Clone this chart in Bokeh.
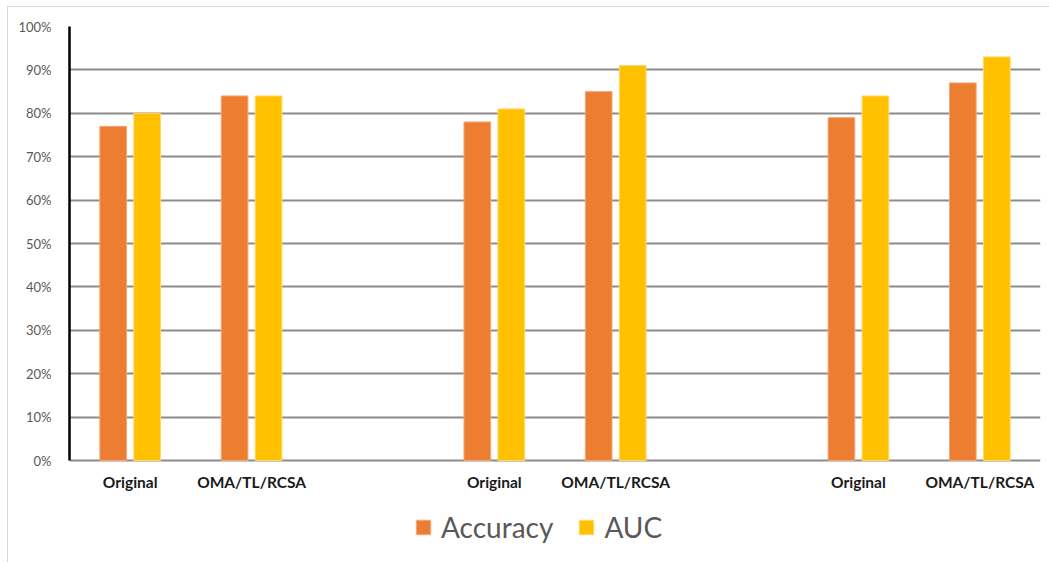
from bokeh.plotting import figure
from bokeh.models import (ColumnDataSource, FixedTicker, Legend, LegendItem,
                          NumeralTickFormatter, InlineStyleSheet)
from bokeh.core.properties import value
from bokeh.embed import file_html
from bokeh.resources import INLINE

# ---- data ----
categories = ["Original", "OMA/TL/RCSA", "Original", "OMA/TL/RCSA", "Original", "OMA/TL/RCSA"]
accuracy = [0.77, 0.84, 0.78, 0.85, 0.79, 0.87]
auc = [0.80, 0.84, 0.81, 0.91, 0.84, 0.93]
y_ticks = [0.0, 0.1, 0.2, 0.3, 0.4, 0.5, 0.6, 0.7, 0.8, 0.9, 1.0]

# each dataset group takes 3 slots (2 categories + 1 blank)
slots = [3 * (i // 2) + (i % 2) for i in range(len(categories))]
off = 0.14
bw = 0.22

src = ColumnDataSource(dict(
    x=slots,
    x_acc=[s - off for s in slots],
    x_auc=[s + off for s in slots],
    acc=accuracy,
    auc=auc,
    cat=categories,
    zero=[0.0] * len(slots),
))

# frame spans down to the canvas bottom so that category labels and
# legend live inside it; 0 sits 102px above the frame bottom (434px per 100%)
p = figure(width=1049, height=562, output_backend="svg", toolbar_location=None,
           x_range=(-0.5, 7.5), y_range=(-102 / 434, 1.0),
           x_axis_location=None,
           min_border_left=69, min_border_right=9, min_border_top=26,
           min_border_bottom=0)
p.outline_line_color = None
p.background_fill_color = "white"
p.border_fill_color = "white"

p.xgrid.grid_line_color = None
p.ygrid.ticker = FixedTicker(ticks=y_ticks)
p.ygrid.grid_line_color = "#8c8c8c"
p.ygrid.grid_line_width = 2

r_acc = p.vbar(x="x_acc", top="acc", width=bw, source=src,
               fill_color="#ED7D31", line_color="#F4A77A", line_width=1)
r_auc = p.vbar(x="x_auc", top="auc", width=bw, source=src,
               fill_color="#FFC000", line_color="#FFD966", line_width=1)

# category labels under the zero line
p.text(x="x", y="zero", text="cat", source=src, y_offset=12,
       text_align="center", text_baseline="top",
       text_font=value("Lato"), text_font_style="bold",
       text_font_size="15.5px", text_color="#1a1a1a")

# y axis
p.yaxis.ticker = FixedTicker(ticks=y_ticks)
p.yaxis.bounds = (0, 1)
p.yaxis.formatter = NumeralTickFormatter(format="0%")
p.yaxis.major_label_text_font = "Lato"
p.yaxis.major_label_text_font_size = "13px"
p.yaxis.major_label_text_color = "#595959"
p.yaxis.major_label_standoff = 12
p.yaxis.axis_line_color = "black"
p.yaxis.axis_line_width = 2.5
p.yaxis.major_tick_line_color = None
p.yaxis.minor_tick_line_color = None

# legend inside the (extended) frame, near its bottom
legend = Legend(items=[LegendItem(label="Accuracy", renderers=[r_acc]),
                       LegendItem(label="AUC", renderers=[r_auc])],
                orientation="horizontal", location=(345, 18),
                label_text_font="Lato", label_text_font_size="28px",
                label_text_color="#595959", glyph_width=18, glyph_height=18,
                spacing=24, label_standoff=9, border_line_color=None,
                background_fill_alpha=0, padding=2, margin=0)
p.add_layout(legend, "center")

# outer chart border (light grey), drawn via CSS on the host element
p.stylesheets = [InlineStyleSheet(css="""
:host::after {
  content: ''; position: absolute; left: 7px; top: 6px;
  width: 1100px; height: 600px;
  border: 1.5px solid #d9d9d9; pointer-events: none; z-index: 5;
}
""")]

open("out.html", "w").write(file_html(p, INLINE))
